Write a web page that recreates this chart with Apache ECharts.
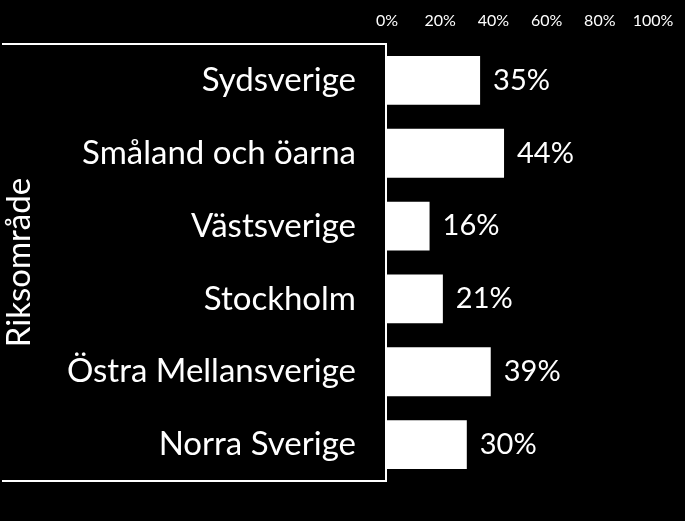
<!DOCTYPE html>
<html>
<head>
<meta charset="utf-8">
<script src="https://cdn.jsdelivr.net/npm/echarts@6/dist/echarts.min.js"></script>
<style>
  html, body { margin: 0; padding: 0; background: #000; }
  #chart { width: 685px; height: 521px; }
</style>
</head>
<body>
<div id="chart"></div>
<script>
var regions = ['Sydsverige', 'Småland och öarna', 'Västsverige', 'Stockholm', 'Östra Mellansverige', 'Norra Sverige'];
var shares = [35, 44, 16, 21, 39, 30];
var axisTitle = 'Riksområde';

var font = 'Lato';
var chart = echarts.init(document.getElementById('chart'));

var option = {
    backgroundColor: '#000',
    animation: false,
    grid: { left: 387, right: 32, top: 44, bottom: 40 },
    xAxis: {
        type: 'value',
        position: 'top',
        min: 0,
        max: 100,
        interval: 20,
        axisLine: { show: false },
        axisTick: { show: false },
        splitLine: { show: false },
        axisLabel: {
            color: '#fff',
            fontSize: 16,
            fontFamily: font,
            margin: 15,
            formatter: '{value}%'
        }
    },
    yAxis: {
        type: 'category',
        inverse: true,
        data: regions,
        axisLine: { show: false },
        axisTick: { show: false },
        axisLabel: {
            color: '#fff',
            fontSize: 33,
            fontFamily: font,
            margin: 31
        },
        name: axisTitle,
        nameLocation: 'middle',
        nameRotate: 90,
        nameGap: 351,
        nameTextStyle: { color: '#fff', fontSize: 33, fontFamily: font }
    },
    // ram runt kategorietiketterna
    graphic: [{
        type: 'polyline',
        shape: { points: [[2, 44], [386, 44], [386, 481], [2, 481]] },
        style: { stroke: '#fff', lineWidth: 2, fill: null },
        silent: true
    }],
    series: [{
        type: 'bar',
        data: shares,
        barCategoryGap: '33%',
        itemStyle: { color: '#fff' },
        label: {
            show: true,
            position: 'right',
            distance: 13,
            color: '#fff',
            fontSize: 29,
            fontFamily: font,
            formatter: '{c}%'
        }
    }]
};
chart.setOption(option);
</script>
</body>
</html>
